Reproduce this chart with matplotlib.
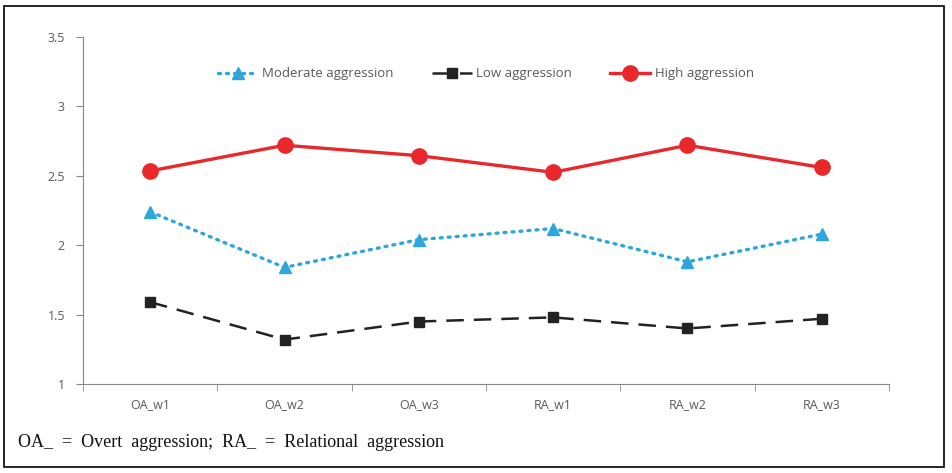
import matplotlib
matplotlib.use("Agg")
import matplotlib.pyplot as plt
from matplotlib.patches import Rectangle

categories = ["OA_w1", "OA_w2", "OA_w3", "RA_w1", "RA_w2", "RA_w3"]
moderate = [2.24, 1.84, 2.04, 2.12, 1.88, 2.08]
low = [1.59, 1.32, 1.45, 1.48, 1.40, 1.47]
high = [2.535, 2.72, 2.645, 2.525, 2.72, 2.56]
yticks = [1, 1.5, 2, 2.5, 3, 3.5]
ytick_labels = ["1", "1.5", "2", "2.5", "3", "3.5"]

fig = plt.figure(figsize=(9.52, 4.73), dpi=100)
ax = fig.add_axes([83/952, 1-384/473, (889-83)/952, (384-37)/473])

x = list(range(len(categories)))
grey = "#868686"
tick_col = "#595959"

ax.plot(x, moderate, color="#2EA6DD", lw=2.4, linestyle=(0, (0.6, 1.8)),
        dash_capstyle="round", marker="^", markersize=9, label="Moderate aggression")
ax.plot(x, low, color="#222222", lw=1.8, linestyle=(0, (7, 4)),
        marker="s", markersize=7, label="Low aggression")
ax.plot(x, high, color="#E8282B", lw=2.4, linestyle="-",
        marker="o", markersize=11, label="High aggression")

ax.set_xlim(-0.5, len(categories) - 0.5)
ax.set_ylim(1, 3.5)
ax.set_yticks(yticks)
ax.set_yticklabels(ytick_labels)
ax.set_xticks(x)
ax.set_xticklabels(categories)
ax.set_xticks([i - 0.5 for i in range(len(categories) + 1)], minor=True)
ax.tick_params(axis="x", which="major", length=0, pad=10, labelcolor=tick_col, labelsize=9)
ax.tick_params(axis="x", which="minor", length=5, color=grey, direction="out")
ax.tick_params(axis="y", length=5, color=grey, labelcolor=tick_col, labelsize=9, pad=8)
for lab in ax.get_xticklabels() + ax.get_yticklabels():
    lab.set_family("Open Sans")

for s in ["top", "right"]:
    ax.spines[s].set_visible(False)
ax.spines["left"].set_color(grey)
ax.spines["bottom"].set_color(grey)

leg = ax.legend(loc="center", bbox_to_anchor=(0.5, (384-74)/347), ncol=3, frameon=False,
                handlelength=3.0, columnspacing=2.9, handletextpad=0.35,
                prop={"family": "Open Sans", "size": 9.5})
for t in leg.get_texts():
    t.set_color(tick_col)

fig.text(18/952, 1-442/473, "OA_  =  Overt  aggression;  RA_  =  Relational  aggression",
         family="Liberation Serif", fontsize=13, va="center", ha="left",
         color="#111111")

fig.patches.append(Rectangle((4/952, 1-467/473), (944-4)/952, (467-6)/473,
                             transform=fig.transFigure, fill=False, edgecolor="black", lw=1.2))

fig.savefig("out.png", dpi=100)
